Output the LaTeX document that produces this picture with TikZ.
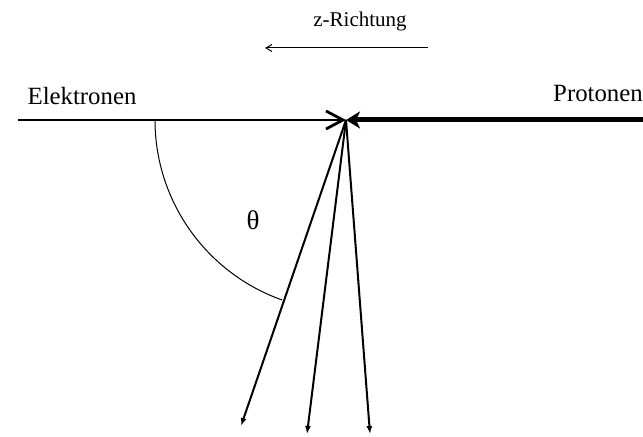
\documentclass[tikz,border=0pt]{standalone}
\usepackage{fontspec}
\setmainfont{Liberation Serif}
\usetikzlibrary{arrows.meta,positioning}
\tikzset{every node/.style={font=\fontsize{12.4}{14}\selectfont,inner sep=0pt},
  ebeam/.style={line width=1.2pt,-{Straight Barb[length=8.5pt,width=9pt,line width=1.4pt]}},
  pbeam/.style={line width=2.5pt,-{Stealth[length=7pt,width=8.5pt,inset=2pt]}},
  scat/.style={line width=1pt,-{Latex[length=4pt,width=3pt]}},
  hair/.style={line width=.5pt},
  small/.style={font=\fontsize{10.5}{12}\selectfont}}
\begin{document}
\begin{tikzpicture}[x=.5pt,y=-.5pt]
\useasboundingbox (0,0) rectangle (643,437);
% direction hint on top
\node[small] (zr) at (360,21) {z-Richtung};
\coordinate (zA) at (428,48);\coordinate (zB) at (265,48);
\draw[hair,-{Straight Barb[length=3pt,width=3.5pt]}] (zA) -- (zB);
% incoming beams meet at the vertex
\coordinate (ip) at (346,120);
\coordinate (ein) at (18,120);\coordinate (pin) at (643,120);
\node (el) at (82,96) {Elektronen};\node (pr) at (598,94) {Protonen};
\draw[ebeam] (ein) -- (ip);\draw[pbeam] (pin) -- (ip);
% scattered particles and angle
\coordinate (s1) at (241,426);\coordinate (s2) at (307,434);\coordinate (s3) at (370,434);
\foreach \s in {s1,s2,s3} \draw[scat] (ip) -- (\s);
\draw[hair] (ip) ++(180:191) arc[start angle=180,end angle=109.5,radius=191];
\node (th) at (253,220) {\fontsize{13.5}{15}\selectfont θ};
\end{tikzpicture}
\end{document}
